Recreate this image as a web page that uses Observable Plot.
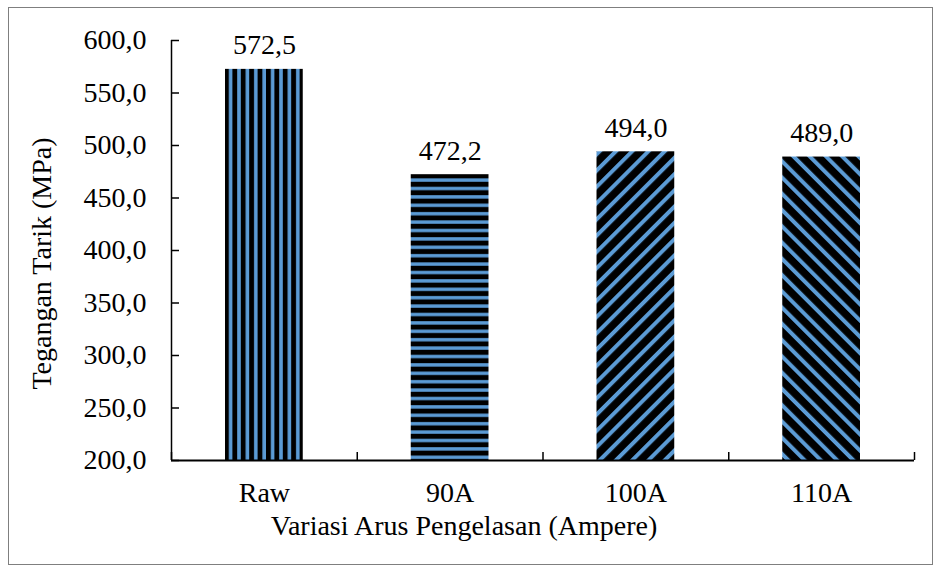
<!DOCTYPE html>
<html>
<head>
<meta charset="utf-8">
<script src="https://cdn.jsdelivr.net/npm/d3@7"></script>
<script src="https://cdn.jsdelivr.net/npm/@observablehq/plot@0.6"></script>
<style>
  body { margin: 0; background: #fff; }
  #wrap { position: relative; width: 940px; height: 570px; }
  #border { position: absolute; left: 8px; top: 7px; width: 923px; height: 556px; border: 1px solid #7f7f7f; pointer-events: none; }
  svg, svg text { font-family: "Liberation Serif", "Times New Roman", serif !important; }
</style>
</head>
<body>
<div id="wrap"><div id="border"></div></div>
<script>
const categories = ["Raw", "90A", "100A", "110A"];
const values = [572.5, 472.2, 494.0, 489.0];
const patterns = ["pVert", "pHoriz", "pDiagUp", "pDiagDown"];
const yTicks = [200, 250, 300, 350, 400, 450, 500, 550, 600];
const xTitle = "Variasi Arus Pengelasan (Ampere)";
const yTitle = "Tegangan Tarik (MPa)";

const data = categories.map((c, i) => ({cat: c, i, value: values[i], pat: patterns[i]}));
const fmt = v => v.toFixed(1).replace(".", ",");
const FS = 28;

const chart = Plot.plot({
  width: 940,
  height: 570,
  marginLeft: 171,
  marginRight: 26,
  marginTop: 40,
  marginBottom: 110,
  style: {fontFamily: '"Liberation Serif", "Times New Roman", serif', fontSize: FS + "px", color: "#000", background: "transparent"},
  x: {domain: [0, categories.length]},
  y: {domain: [200, 600]},
  marks: [
    Plot.rectY(data, {
      x1: d => d.i, x2: d => d.i + 1, y1: 200, y2: "value",
      insetLeft: 54, insetRight: 54,
      fill: {value: d => `url(#${d.pat})`, scale: null}
    }),
    Plot.text(data, {
      x: d => d.i + 0.5, y: "value", text: d => fmt(d.value),
      lineAnchor: "bottom", dy: -15, fontSize: FS, fill: "#000"
    }),
    Plot.axisY({ticks: yTicks, tickSize: 0, tickPadding: 25, tickFormat: fmt, fontSize: FS, label: null}),
    Plot.axisY({ticks: yTicks, tickSize: -8, tickFormat: () => "", label: null, strokeWidth: 1.5}),
    Plot.ruleX([0], {strokeWidth: 1.5}),
    Plot.axisX({ticks: categories.map((c, i) => i + 0.5), tickSize: 0, tickPadding: 22,
      tickFormat: v => categories[Math.round(v - 0.5)], fontSize: FS, label: null}),
    Plot.axisX({ticks: d3.range(categories.length + 1), tickSize: -8, tickFormat: () => "", label: null, strokeWidth: 1.5}),
    Plot.ruleY([200], {strokeWidth: 2.2}),
    Plot.text([xTitle], {frameAnchor: "bottom", textAnchor: "middle", dx: -79, dy: 74, fontSize: FS, fill: "#000"}),
    Plot.text([yTitle], {frameAnchor: "left", textAnchor: "middle", rotate: -90, dx: -129, dy: 13, fontSize: FS, fill: "#000"})
  ]
});

const svg = d3.select(chart);
const defs = svg.insert("defs", ":first-child");
const blue = "#5B9BD5";
function stripePattern(id, w, h, transform, blueRect) {
  const p = defs.append("pattern").attr("id", id).attr("patternUnits", "userSpaceOnUse")
    .attr("width", w).attr("height", h);
  if (transform) p.attr("patternTransform", transform);
  p.append("rect").attr("width", w).attr("height", h).attr("fill", "#000");
  p.append("rect").attr("x", blueRect[0]).attr("y", blueRect[1]).attr("width", blueRect[2]).attr("height", blueRect[3]).attr("fill", blue);
}
stripePattern("pVert", 8.4, 10, null, [2, 0, 3.6, 10]);
stripePattern("pHoriz", 10, 8.4, null, [0, 2, 10, 3.4]);
stripePattern("pDiagUp", 11.5, 10, "rotate(45)", [0, 0, 4, 10]);
stripePattern("pDiagDown", 11.5, 10, "rotate(-45)", [0, 0, 4, 10]);

document.getElementById("wrap").prepend(chart);
</script>
</body>
</html>
